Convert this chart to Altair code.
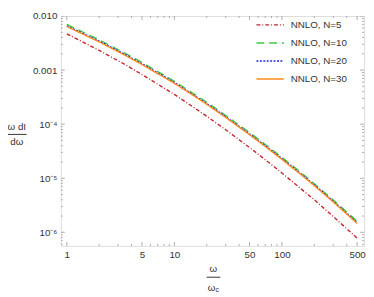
import altair as alt
import pandas as pd

# ---- data ----
omega = [1, 2, 3.5, 5, 7, 10, 15, 20, 30, 50, 70, 100, 150, 200, 300, 500]
n5  = [4.7e-3, 2.32e-3, 1.26e-3, 8.3e-4, 5.5e-4, 3.55e-4, 2.07e-4, 1.40e-4, 7.9e-5, 3.7e-5, 2.2e-5, 1.25e-5, 6.4e-6, 4.0e-6, 1.96e-6, 7.8e-7]
n10 = [7.0e-3, 3.63e-3, 2.04e-3, 1.38e-3, 9.4e-4, 6.2e-4, 3.7e-4, 2.54e-4, 1.45e-4, 7.0e-5, 4.2e-5, 2.43e-5, 1.28e-5, 7.9e-6, 3.97e-6, 1.59e-6]
n20 = [6.6e-3, 3.45e-3, 1.94e-3, 1.31e-3, 8.9e-4, 5.9e-4, 3.5e-4, 2.41e-4, 1.38e-4, 6.6e-5, 4.0e-5, 2.31e-5, 1.21e-5, 7.55e-6, 3.77e-6, 1.51e-6]
n30 = [6.4e-3, 3.33e-3, 1.87e-3, 1.27e-3, 8.6e-4, 5.7e-4, 3.4e-4, 2.33e-4, 1.33e-4, 6.4e-5, 3.87e-5, 2.23e-5, 1.17e-5, 7.3e-6, 3.64e-6, 1.46e-6]

labels = ["NNLO, N=5", "NNLO, N=10", "NNLO, N=20", "NNLO, N=30"]
colors = ["#c0272d", "#3ec93e", "#2525e0", "#ff8a1c"]
dashes = [[4, 2, 1, 2], [8, 5], [2, 1.5], [1, 0]]

x_major = [1, 5, 10, 50, 100, 500]
x_minor = [2, 3, 4, 6, 7, 8, 9, 20, 30, 40, 60, 70, 80, 90, 200, 300, 400]
y_major = [1e-6, 1e-5, 1e-4, 1e-3, 1e-2]
y_minor = [k * 10.0 ** e for e in range(-7, -2) for k in range(2, 10)]

W, H = 310, 235
TOP = 5
FONT = "Liberation Sans"

series = [n5, n10, n20, n30]
rows = []
for lab, vals in zip(labels, series):
    for o, v in zip(omega, vals):
        rows.append({"omega": o, "val": v, "series": lab})
df = pd.DataFrame(rows)

xscale = alt.Scale(type="log", domain=[0.88, 580], nice=False)
yscale = alt.Scale(type="log", domain=[5.6e-7, 0.01], nice=False)

y_label_expr = ("datum.value > 0.005 ? '0.010' : datum.value > 0.0005 ? '0.001' : "
                "datum.value > 0.00005 ? '10⁻⁴' : datum.value > 0.000005 ? '10⁻⁵' : '10⁻⁶'")

lines = alt.Chart(df).mark_line(strokeWidth=1.4, clip=True).encode(
    x=alt.X("omega:Q", scale=xscale,
            axis=alt.Axis(values=x_major, format="d", ticks=False, domain=False, grid=False,
                          labelPadding=4, labelFontSize=10, labelFont=FONT,
                          labelColor="#333333", title=None)),
    y=alt.Y("val:Q", scale=yscale,
            axis=alt.Axis(values=y_major, labelExpr=y_label_expr, ticks=False, domain=False,
                          grid=False, labelPadding=4, labelFontSize=10, labelFont=FONT,
                          labelColor="#333333", title=None)),
    color=alt.Color("series:N", scale=alt.Scale(domain=labels, range=colors), legend=None),
    strokeDash=alt.StrokeDash("series:N", scale=alt.Scale(domain=labels, range=dashes), legend=None),
    order=alt.Order("omega:Q"),
    detail="series:N",
)

tick_col = "#aaaaaa"
def ytick(vals, length, left=True):
    d = pd.DataFrame({"v": vals})
    x0, x1 = (0, length) if left else (W - length, W)
    return alt.Chart(d).mark_rule(color=tick_col, strokeWidth=1, clip=True).encode(
        y=alt.Y("v:Q", scale=yscale), x=alt.value(x0), x2=alt.value(x1))

def xtick(vals, length, bottom=True):
    d = pd.DataFrame({"v": vals})
    y0, y1 = (H - length, H) if bottom else (0, length)
    return alt.Chart(d).mark_rule(color=tick_col, strokeWidth=1, clip=True).encode(
        x=alt.X("v:Q", scale=xscale), y=alt.value(y0), y2=alt.value(y1))

ticks = [ytick(y_major, 4, True), ytick(y_major, 4, False),
         ytick(y_minor, 2, True), ytick(y_minor, 2, False),
         xtick(x_major, 4, True), xtick(x_major, 4, False),
         xtick(x_minor, 2, True), xtick(x_minor, 2, False)]

def txt(s, x, y, size=10, align="center"):
    return alt.Chart(pd.DataFrame({"t": [s]})).mark_text(
        font=FONT, fontSize=size, color="#333333", align=align, baseline="middle"
    ).encode(text="t:N", x=alt.value(x), y=alt.value(y))

def hline(x0, x1, y, color="#333333", dash=None, width=1):
    kw = dict(color=color, strokeWidth=width)
    if dash is not None:
        kw["strokeDash"] = dash
    return alt.Chart(pd.DataFrame({"a": [0]})).mark_rule(**kw).encode(
        x=alt.value(x0), x2=alt.value(x1), y=alt.value(y))

# page y -> plot y: subtract 8 (page margin) and TOP
def py(page_y):
    return page_y - 8 - TOP

titles = [
    txt("ω dI", -45, py(126)), hline(-54, -35, py(134)), txt("dω", -45, py(142)),
    txt("ω", 156, py(272)), hline(149, 163, py(280)), txt("ω", 154, py(291)),
    txt("c", 160, py(293), size=7),
]

legend = []
leg_y = [22, 40.5, 59, 77.3]
for lab, col, dsh, yy in zip(labels, colors, dashes, leg_y):
    legend.append(hline(200, 228, py(yy), color=col, dash=dsh, width=1.4))
    legend.append(txt(lab, 235, py(yy), align="left"))

chart = alt.layer(*ticks, lines, *titles, *legend).properties(
    width=W, height=H,
    autosize=alt.AutoSizeParams(type="none"),
    padding={"left": 54, "top": TOP, "right": 2, "bottom": 49},
).configure_view(stroke="#aaaaaa", strokeWidth=1).configure(background="white")

chart.save("out.html", embed_options={"renderer": "svg", "actions": False})
